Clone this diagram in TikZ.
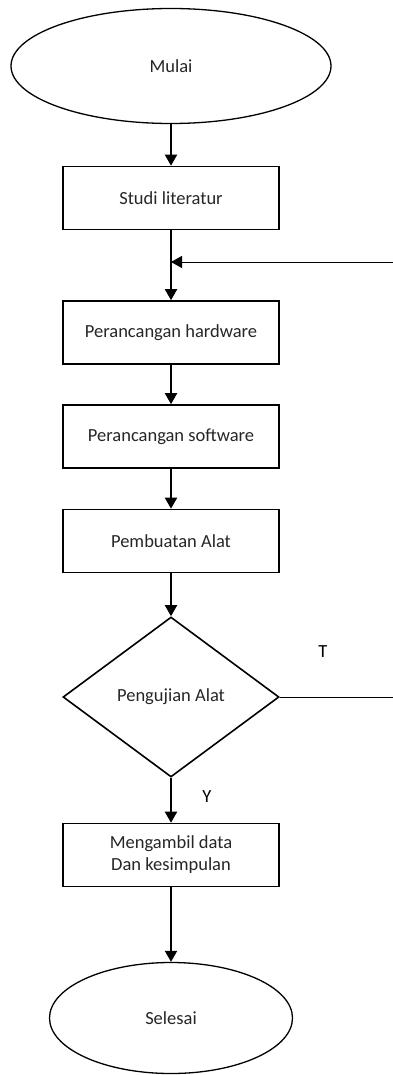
\documentclass[tikz,border=0pt]{standalone}
\usepackage{fontspec}
\setmainfont{Carlito}
\usetikzlibrary{shapes.geometric,arrows.meta}
\tikzset{proses/.style={draw, line width=1.6pt, minimum width=216pt, minimum height=63pt, inner sep=0pt, align=center, text=black!85, font=\fontsize{18.5}{22}\selectfont},
terminal/.style={draw, ellipse, line width=1.3pt, inner sep=0pt, text=black!85, font=\fontsize{18.5}{22}\selectfont},
keputusan/.style={draw, diamond, line width=1.6pt, minimum width=216pt, minimum height=160pt, inner sep=0pt, text=black!85, font=\fontsize{18.5}{22}\selectfont},
%tip used by every connector
panah/.style={-{Triangle[length=11pt,width=12pt]}, line width=#1},
panah/.default={2pt}}

\begin{document}
\begin{tikzpicture}[x=1pt,y=-1pt]

    \useasboundingbox (0,0) rectangle (392,1075);

    \node[terminal, minimum width=320pt, minimum height=115pt] (mulai) at (171,66) {Mulai};
    \node[proses] (studi)    at (171,198)   {Studi literatur};
    \node[proses] (hardware) at (171,332.5) {Perancangan hardware};
    \node[proses] (software) at (171,436.5) {Perancangan software};
    \node[proses] (alat)     at (171,541)   {Pembuatan Alat};
    \node[keputusan] (uji)   at (171,697)   {Pengujian Alat};
    \node[proses] (data)     at (171,855)   {Mengambil data\\Dan kesimpulan};
    \node[terminal, minimum width=243pt, minimum height=111pt] (selesai) at (171,1018) {Selesai};

    \coordinate (gabung) at (171,262);
    \coordinate (balik)  at (400,697);

    \node[font=\fontsize{18.5}{22}\selectfont] (tidak) at (323,652) {T};
    \node[font=\fontsize{18.5}{22}\selectfont] (ya)    at (207,797) {Y};

    \foreach \a/\b in {mulai/studi, gabung/hardware, hardware/software, software/alat, alat/uji, uji/data, data/selesai}
    \draw[panah] (\a) -- (\b);

    \draw[line width=2pt] (studi) -- (gabung);
    \draw[panah=1pt] (uji.east) -- (balik) |- (gabung);

  \end{tikzpicture}
\end{document}
